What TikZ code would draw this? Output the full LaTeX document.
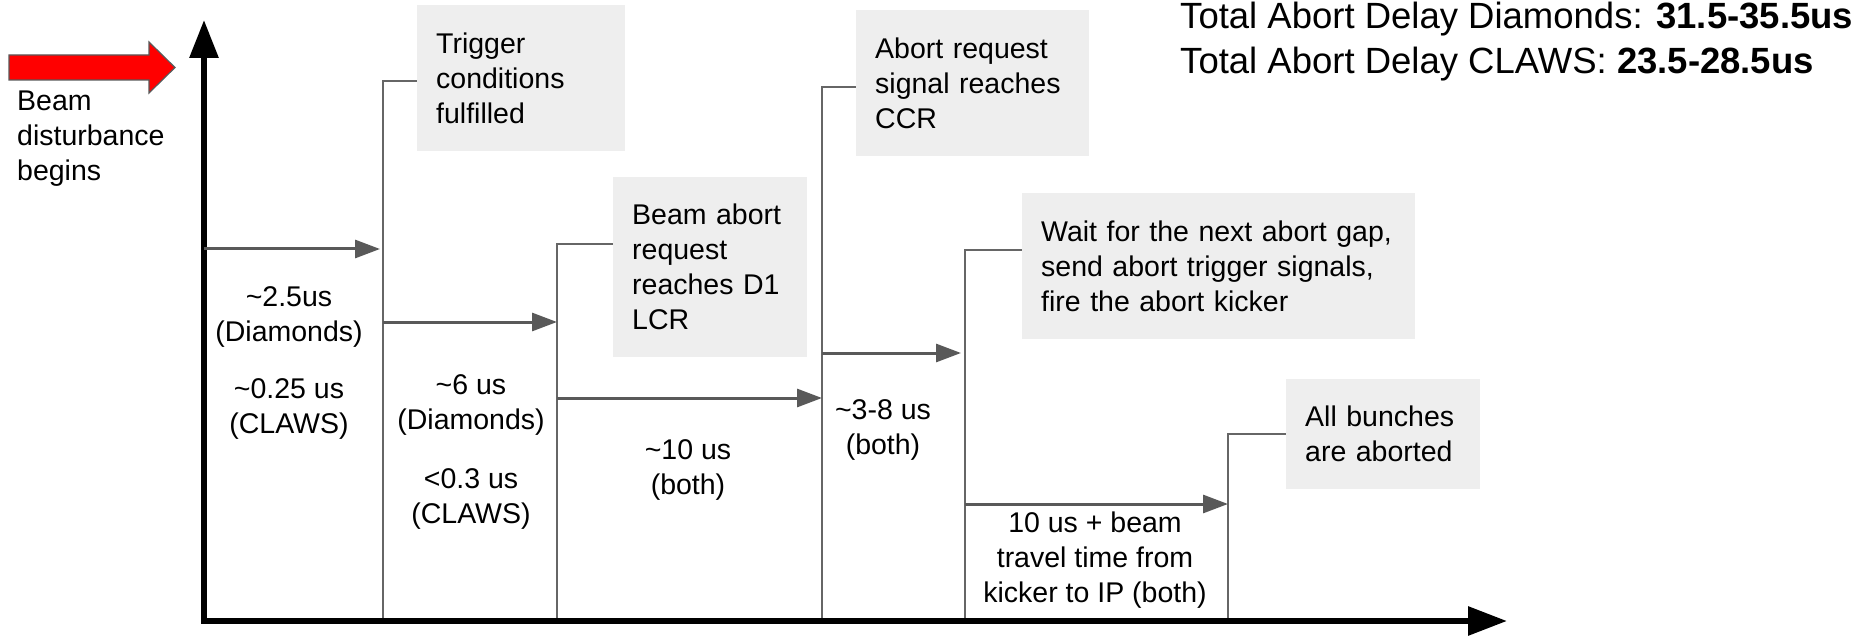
\documentclass[tikz,border=0pt]{standalone}
\usepackage{fontspec}
\setmainfont{Liberation Sans}
\usepackage{tikz}
\usetikzlibrary{arrows.meta}
\definecolor{boxgray}{RGB}{238,238,238}
\definecolor{arrowgray}{RGB}{89,89,89}
\definecolor{linegray}{RGB}{102,102,102}
\definecolor{beamred}{RGB}{255,0,0}

\begin{document}
\begin{tikzpicture}[x=1pt, y=-1pt,
    every node/.style={font=\fontsize{28.5}{35}\selectfont},
    evbox/.style={fill=boxgray, inner xsep=19pt, inner ysep=0pt, align=left, anchor=north west},
    delay/.style={align=center, inner sep=0pt},
    tick/.style={linegray, line width=1.5pt},
    steparrow/.style={arrowgray, line width=3pt, -{Triangle[length=25pt, width=18pt]}},
    axis/.style={black, line width=6pt, line join=miter}]
    \useasboundingbox (0,0) rectangle (1873,636);

    % Beam disturbance
    \draw[fill=beamred, draw=arrowgray, line width=1.2pt] (9,55) -- (149,55) -- (149,42) -- (175,67.5) -- (149,93) -- (149,80) -- (9,80) -- cycle;
    \node[inner sep=0pt, anchor=west, align=left] (beamtxt) at (17,139) {Beam\\disturbance\\begins};

    % Event boxes
    \node[evbox, text width=170pt, minimum height=146pt] (trig) at (417,5) {Trigger\\conditions\\fulfilled};
    \node[evbox, text width=156pt, minimum height=180pt] (lcr) at (613,177) {Beam abort\\request\\reaches D1\\LCR};
    \node[evbox, text width=195pt, minimum height=146pt] (ccr) at (856,10) {Abort request\\signal reaches\\CCR};
    \node[evbox, text width=355pt, minimum height=146pt] (kick) at (1022,193) {Wait for the next abort gap,\\send abort trigger signals,\\fire the abort kicker};
    \node[evbox, text width=156pt, minimum height=110pt] (done) at (1286,379) {All bunches\\are aborted};

    % Time marks on the axis
    \coordinate (origin) at (204,621);
    \coordinate (ytop) at (204,20);
    \coordinate (xend) at (1507,621);
    \coordinate (v1) at (383,621);
    \coordinate (v2) at (557,621);
    \coordinate (v3) at (822,621);
    \coordinate (v4) at (965,621);
    \coordinate (v5) at (1228,621);
    \draw[tick] (v1) |- ([yshift=-3pt]trig.west);
    \draw[tick] (v2) |- ([yshift=23pt]lcr.west);
    \draw[tick] (v3) |- ([yshift=-4pt]ccr.west);
    \draw[tick] (v4) |- ([yshift=16pt]kick.west);
    \draw[tick] (v5) |- (done.west);

    % Axes
    \draw[axis, {Triangle[length=38pt, width=28pt]}-{Triangle[length=39pt, width=28pt]}] (ytop) -- (origin) -- (xend);

    % Delay arrows
    \draw[steparrow, shorten >=3pt] (origin |- 0,249) -- (v1 |- 0,249);
    \draw[steparrow] (v1 |- 0,322) -- (v2 |- 0,322);
    \draw[steparrow] (v2 |- 0,398) -- (v3 |- 0,398);
    \draw[steparrow, shorten >=4pt] (v3 |- 0,353) -- (v4 |- 0,353);
    \draw[steparrow] (v4 |- 0,504) -- (v5 |- 0,504);

    % Delay labels
    \node[delay] (d1) at (289,363) {\textasciitilde 2.5us\\(Diamonds)\\[22pt]\textasciitilde 0.25 us\\(CLAWS)};
    \node[delay] (d2) at (471,452) {\textasciitilde 6 us\\(Diamonds)\\[24pt]<0.3 us\\(CLAWS)};
    \node[delay] (d3) at (688,470) {\textasciitilde 10 us\\(both)};
    \node[delay] (d4) at (883,430) {\textasciitilde 3-8 us\\(both)};
    \node[delay] (d5) at (1095,560) {10 us + beam\\travel time from\\kicker to IP (both)};

    % Totals
    \node[inner sep=0pt, anchor=west, align=left, font=\fontsize{36.5}{45}\selectfont] (total) at (1180,42) {Total Abort Delay Diamonds: \textbf{31.5-35.5us}\\Total Abort Delay CLAWS: \textbf{23.5-28.5us}};
\end{tikzpicture}
\end{document}
